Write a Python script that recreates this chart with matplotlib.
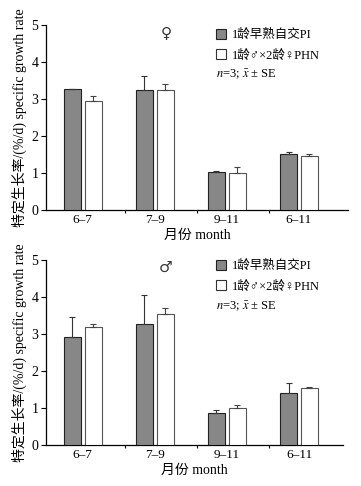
import matplotlib
matplotlib.use("Agg")
import matplotlib.pyplot as plt
from matplotlib.patches import Patch
import numpy as np

plt.rcParams['font.family'] = ['Liberation Serif', 'DejaVu Sans', 'Noto Sans CJK SC']
plt.rcParams['mathtext.fontset'] = 'stix'

categories = ['6–7', '7–9', '9–11', '6–11']
series_names = ['1龄早熟自交PI', '1龄♂×2龄♀PHN']

female_PI = [3.27, 3.25, 1.04, 1.50]
female_PI_se = [0.0, 0.36, 0.01, 0.07]
female_PHN = [2.95, 3.25, 0.99, 1.45]
female_PHN_se = [0.14, 0.15, 0.17, 0.05]

male_PI = [2.91, 3.27, 0.87, 1.40]
male_PI_se = [0.55, 0.79, 0.09, 0.27]
male_PHN = [3.20, 3.54, 1.00, 1.55]
male_PHN_se = [0.06, 0.16, 0.08, 0.02]

yticks = [0, 1, 2, 3, 4, 5]

W, H = 361, 486
fig = plt.figure(figsize=(W / 100, H / 100), dpi=100)

def px_axes(x0, x1, y0, y1):
    return [x0 / W, 1 - y0 / H, (x1 - x0) / W, (y0 - y1) / H]

grey = '#878787'
fs = 9

def draw(ax, pi, pi_se, phn, phn_se, xright):
    x = np.arange(len(categories))
    bw = 0.235
    off = 0.145
    ax.bar(x - off, pi, bw, color=grey, edgecolor='#222222', linewidth=0.8,
           yerr=[np.zeros(len(pi)), pi_se], capsize=2.5,
           error_kw=dict(ecolor='#333333', elinewidth=0.8, capthick=0.8), zorder=3)
    ax.bar(x + off, phn, bw, color='white', edgecolor='#555555', linewidth=0.8,
           yerr=[np.zeros(len(phn)), phn_se], capsize=2.5,
           error_kw=dict(ecolor='#444444', elinewidth=0.8, capthick=0.8), zorder=3)
    ax.set_xlim(-0.51, xright)
    ax.set_ylim(0, 5)
    ax.set_yticks(yticks)
    ax.set_yticklabels([str(t) for t in yticks], fontsize=10)
    ax.set_xticks(x)
    ax.set_xticklabels(categories, fontsize=9.5)
    ax.tick_params(axis='x', length=0, pad=3)
    ax.set_xticks(x[:-1] + 0.58, minor=True)
    ax.tick_params(axis='x', which='minor', length=2.5, width=0.8, direction='out')
    ax.tick_params(axis='y', length=3.5, width=0.8, direction='out', pad=2)
    for s in ['top', 'right']:
        ax.spines[s].set_visible(False)
    for s in ['left', 'bottom']:
        ax.spines[s].set_linewidth(0.9)
    ax.set_xlabel('月份 month', fontsize=10, labelpad=2,
                  family=['Liberation Serif', 'Noto Sans CJK SC'])
    ax.set_ylabel('特定生长率/(%/d) specific growth rate', fontsize=10, labelpad=3,
                  family=['Liberation Serif', 'Noto Sans CJK SC'])
    handles = [Patch(facecolor=grey, edgecolor='#222222', linewidth=0.8),
               Patch(facecolor='white', edgecolor='#333333', linewidth=0.8)]
    return handles

# top panel (female)
ax1 = fig.add_axes(px_axes(46, 348, 210, 25))
h = draw(ax1, female_PI, female_PI_se, female_PHN, female_PHN_se, 3.68)
ax1.legend(h, series_names, loc='upper left', bbox_to_anchor=((216 - 46) / 302, (210 - 29) / 185),
           frameon=False, fontsize=fs, handlelength=0.8, handleheight=0.8,
           handletextpad=0.5, labelspacing=0.65, borderpad=0, borderaxespad=0)
ax1.text((216 - 46) / 302, (210 - 74) / 185, '$n$=3; $\\bar{x}$ ± SE', transform=ax1.transAxes,
         fontsize=fs, va='center', ha='left')
ax1.text((166 - 46) / 302, (210 - 33) / 185, '♀', transform=ax1.transAxes,
         fontsize=11, va='center', ha='center', family=['DejaVu Sans'], color='#333333')

# bottom panel (male)
ax2 = fig.add_axes(px_axes(46, 343, 445.3, 259.7))
h = draw(ax2, male_PI, male_PI_se, male_PHN, male_PHN_se, 3.61)
ax2.legend(h, series_names, loc='upper left', bbox_to_anchor=((216 - 46) / 297, (445.3 - 260) / 185.6),
           frameon=False, fontsize=fs, handlelength=0.8, handleheight=0.8,
           handletextpad=0.5, labelspacing=0.65, borderpad=0, borderaxespad=0)
ax2.text((216 - 46) / 297, (445.3 - 306) / 185.6, '$n$=3; $\\bar{x}$ ± SE', transform=ax2.transAxes,
         fontsize=fs, va='center', ha='left')
ax2.text((166 - 46) / 297, (445.3 - 267) / 185.6, '♂', transform=ax2.transAxes,
         fontsize=11, va='center', ha='center', family=['DejaVu Sans'], color='#333333')

fig.savefig('out.png', dpi=100)
